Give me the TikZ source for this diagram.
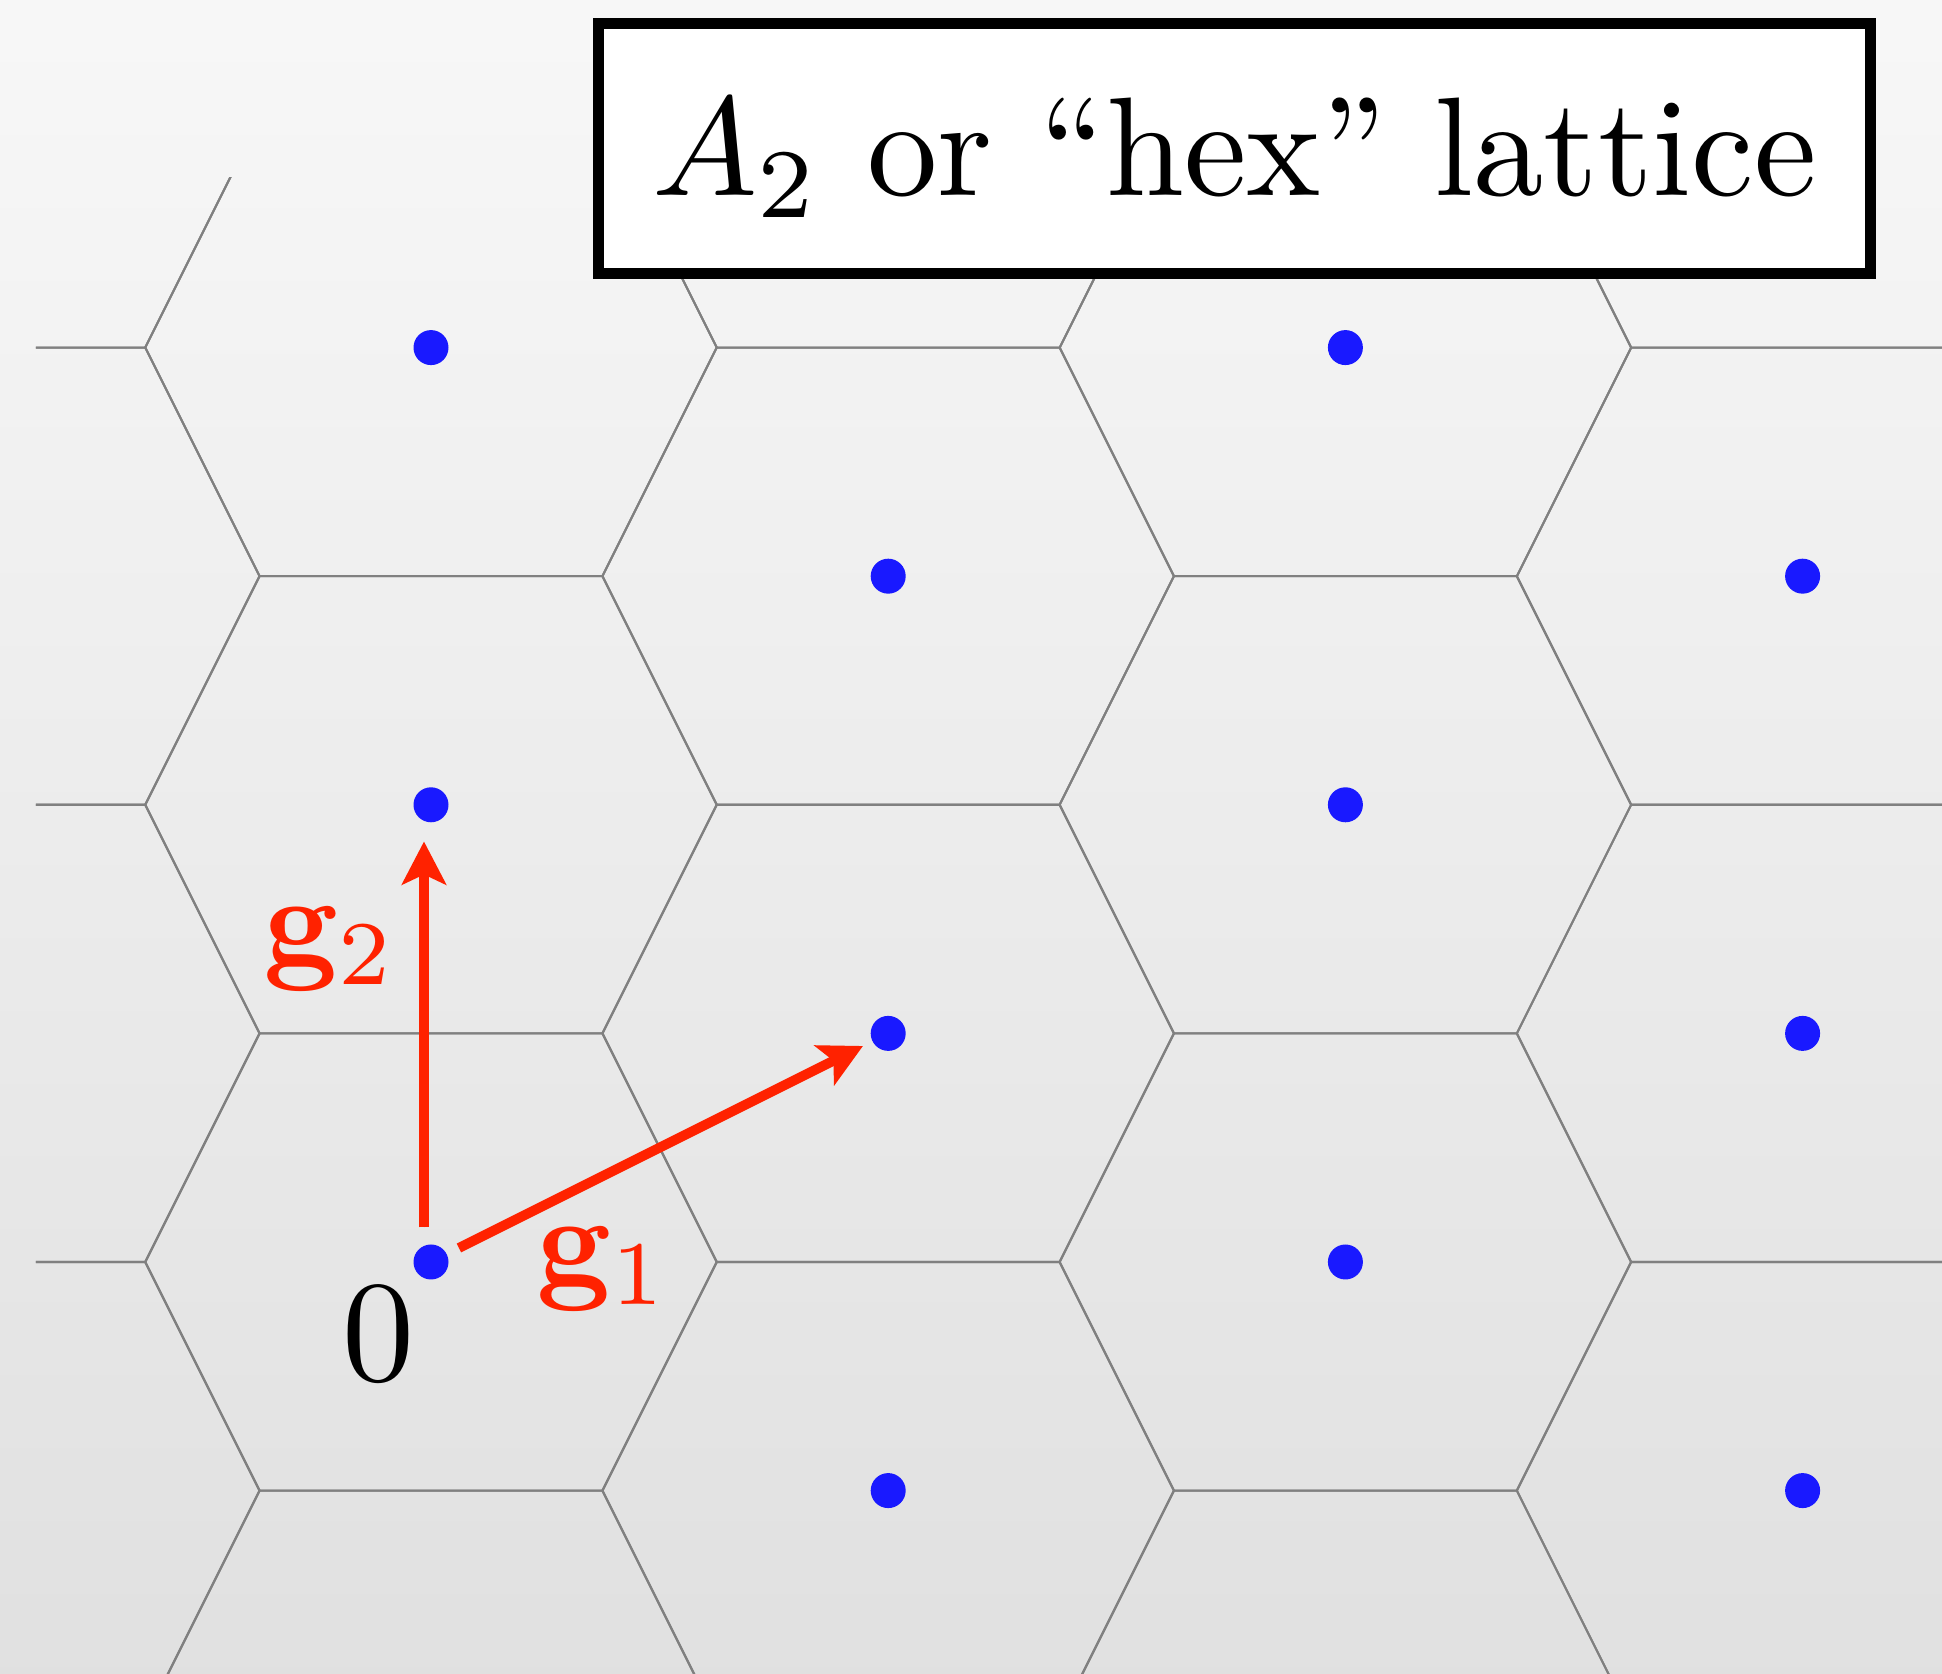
\documentclass[tikz,border=0pt]{standalone}
\usepackage{amsmath,amssymb}
\usetikzlibrary{arrows.meta}

\definecolor{vecred}{RGB}{255,34,0}
\definecolor{dotblue}{RGB}{25,25,255}

\begin{document}
\begin{tikzpicture}[x=2.286cm,y=2.286cm]
\tikzset{
  latticept/.style={circle,fill=dotblue,minimum size=3.5mm,inner sep=0pt},
  cell/.style={draw=black!50,line width=0.6pt},
  basisvec/.style={-{Stealth[length=4.3mm,width=4.4mm,inset=1mm]},draw=vecred,fill=vecred,line width=2.8pt},
  veclabel/.style={text=vecred,inner sep=0pt},
  titlebox/.style={draw,fill=white,line width=3.1pt,minimum width=12.72cm,minimum height=2.5cm,
    text height=1.05cm,text depth=0.1cm,inner sep=0pt}
}
\useasboundingbox (-1.8854,-1.8023) rectangle (6.6098,5.5206);
\shade[top color=black!3,bottom color=black!12] (-1.8854,-1.8023) rectangle (6.6098,5.5206);
% voronoi cells
\begin{scope}
\clip (-1.728,-1.8023) rectangle (6.6098,4.742);
\foreach \i in {-1,...,3}
  \foreach \j in {-2,...,3}
    \draw[cell] (2*\i,\i+2*\j) ++(-0.75,1) -- ++(1.5,0) -- ++(0.5,-1) -- ++(-0.5,-1) -- ++(-1.5,0) -- ++(-0.5,1) -- cycle;
\end{scope}
% lattice points
\node[latticept] (n_a0) at (0,0) {};
\node[latticept] (n_a1) at (0,2) {};
\node[latticept] (n_a2) at (0,4) {};
\node[latticept] (n_b0) at (2,-1) {};
\node[latticept] (n_b1) at (2,1) {};
\node[latticept] (n_b2) at (2,3) {};
\node[latticept] (n_c0) at (4,0) {};
\node[latticept] (n_c1) at (4,2) {};
\node[latticept] (n_c2) at (4,4) {};
\node[latticept] (n_d0) at (6,-1) {};
\node[latticept] (n_d1) at (6,1) {};
\node[latticept] (n_d2) at (6,3) {};
% basis vectors
\draw[basisvec,shorten <=1.3mm,shorten >=1mm] (n_a0) -- (n_b1);
\draw[basisvec,shorten <=1.65mm,shorten >=1.85mm] ([xshift=-0.7mm]n_a0.north) -- ([xshift=-0.7mm]n_a1.south);
\node[veclabel] (l_g1) at (0.752,-0.031) {\scalebox{3.7}{$\mathbf{g}_1$}};
\node[veclabel] (l_g2) at (-0.44,1.369) {\scalebox{3.7}{$\mathbf{g}_2$}};
\node[inner sep=0pt] (l_0) at (-0.2275,-0.315) {\scalebox{4.1}{$0$}};
\node[titlebox] (title) at (3.515,4.871) {\scalebox{4}{$A_2$ or ``hex'' lattice}};
\end{tikzpicture}
\end{document}
